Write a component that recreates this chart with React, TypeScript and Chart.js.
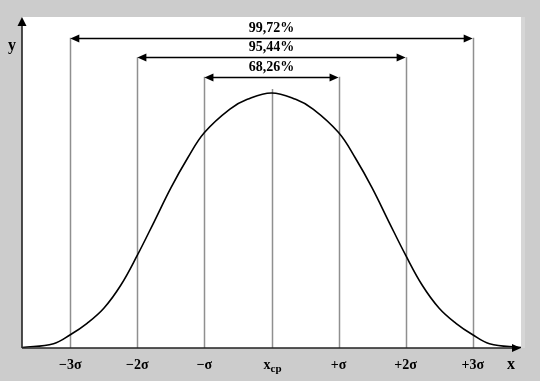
import React, { useEffect, useRef } from "react";
import { Chart, registerables } from "chart.js";

Chart.register(...registerables);

// Curve: x in sigma units, y relative density (peak = 1)
const curveX = [-3.72, -3.25, -3, -2.75, -2.5, -2.25, -2, -1.75, -1.5, -1.25, -1, -0.62, -0.36, 0, 0.36, 0.62, 1, 1.25, 1.5, 1.75, 2, 2.25, 2.5, 2.75, 3, 3.25, 3.72];
const curveY = [0.002, 0.017, 0.052, 0.097, 0.156, 0.245, 0.364, 0.495, 0.628, 0.745, 0.845, 0.937, 0.975, 1.0, 0.975, 0.937, 0.845, 0.745, 0.628, 0.495, 0.364, 0.245, 0.156, 0.097, 0.052, 0.017, 0.002];

// Sigma marks on the x axis
const sigmaTicks = [-3, -2, -1, 0, 1, 2, 3];
const sigmaLabels = ["\u22123\u03c3", "\u22122\u03c3", "\u2212\u03c3", "x", "+\u03c3", "+2\u03c3", "+3\u03c3"];
const sigmaLineTops = [1.217, 1.14, 1.064, 1.016, 1.064, 1.14, 1.217];

// Interval arrows
const intervalK = [3, 2, 1];
const intervalLabels = ["99,72%", "95,44%", "68,26%"];
const intervalLevels = [1.217, 1.14, 1.064];

const X_MIN = -3.72;
const X_MAX = 3.72;
const Y_MAX = 1.298;

const FONT = '"Liberation Serif", "Times New Roman", serif';

function arrowHead(ctx: CanvasRenderingContext2D, tipX: number, tipY: number, dir: "left" | "right" | "up", len: number, half: number) {
  ctx.beginPath();
  ctx.moveTo(tipX, tipY);
  if (dir === "left") {
    ctx.lineTo(tipX + len, tipY - half);
    ctx.lineTo(tipX + len, tipY + half);
  } else if (dir === "right") {
    ctx.lineTo(tipX - len, tipY - half);
    ctx.lineTo(tipX - len, tipY + half);
  } else {
    ctx.lineTo(tipX - half, tipY + len);
    ctx.lineTo(tipX + half, tipY + len);
  }
  ctx.closePath();
  ctx.fill();
}

const decorPlugin = {
  id: "decor",
  beforeDraw(chart: any) {
    const { ctx, chartArea, width, height } = chart;
    ctx.save();
    ctx.fillStyle = "#cccccc";
    ctx.fillRect(0, 0, width, height);
    ctx.fillStyle = "#d6d6d6";
    ctx.fillRect(chartArea.right, chartArea.top, 4, chartArea.bottom - chartArea.top);
    ctx.fillStyle = "#ffffff";
    ctx.fillRect(chartArea.left, chartArea.top, chartArea.right - chartArea.left, chartArea.bottom - chartArea.top);
    ctx.restore();
  },
  beforeDatasetsDraw(chart: any) {
    const { ctx, chartArea } = chart;
    const xs = chart.scales.x;
    const ys = chart.scales.y;
    ctx.save();
    ctx.strokeStyle = "#8f8f8f";
    ctx.lineWidth = 1.5;
    sigmaTicks.forEach((t, i) => {
      const px = Math.round(xs.getPixelForValue(t)) + 0.5;
      ctx.beginPath();
      ctx.moveTo(px, ys.getPixelForValue(sigmaLineTops[i]));
      ctx.lineTo(px, chartArea.bottom);
      ctx.stroke();
    });
    ctx.restore();
  },
  afterDatasetsDraw(chart: any) {
    const { ctx, chartArea } = chart;
    const xs = chart.scales.x;
    const ys = chart.scales.y;
    ctx.save();
    ctx.fillStyle = "#000";
    ctx.strokeStyle = "#000";

    // interval arrows
    intervalK.forEach((k, i) => {
      const y = Math.round(ys.getPixelForValue(intervalLevels[i])) + 0.5;
      const x1 = xs.getPixelForValue(-k);
      const x2 = xs.getPixelForValue(k);
      ctx.lineWidth = 1.5;
      ctx.beginPath();
      ctx.moveTo(x1 + 6, y);
      ctx.lineTo(x2 - 6, y);
      ctx.stroke();
      arrowHead(ctx, x1, y, "left", 9, 4);
      arrowHead(ctx, x2, y, "right", 9, 4);
      ctx.font = `bold 14px ${FONT}`;
      ctx.textAlign = "center";
      ctx.textBaseline = "middle";
      ctx.fillText(intervalLabels[i], xs.getPixelForValue(0), y - 10);
    });

    // axes
    ctx.lineWidth = 1.6;
    ctx.strokeStyle = "#222";
    ctx.beginPath();
    ctx.moveTo(chartArea.left, chartArea.bottom);
    ctx.lineTo(chartArea.left, chartArea.top + 8);
    ctx.stroke();
    arrowHead(ctx, chartArea.left, chartArea.top, "up", 9, 4.5);
    ctx.beginPath();
    ctx.moveTo(chartArea.left, chartArea.bottom);
    ctx.lineTo(chartArea.right - 8, chartArea.bottom);
    ctx.stroke();
    arrowHead(ctx, chartArea.right, chartArea.bottom, "right", 9, 4);

    // tick labels
    const ly = chartArea.bottom + 17;
    ctx.textBaseline = "middle";
    sigmaTicks.forEach((t, i) => {
      const px = xs.getPixelForValue(t);
      if (t === 0) {
        ctx.font = `bold 14px ${FONT}`;
        const wx = ctx.measureText("x").width;
        ctx.font = `bold 11px ${FONT}`;
        const wc = ctx.measureText("cp").width;
        const start = px - (wx + wc) / 2 + 1;
        ctx.textAlign = "left";
        ctx.font = `bold 14px ${FONT}`;
        ctx.fillText("x", start, ly);
        ctx.font = `bold 11px ${FONT}`;
        ctx.fillText("cp", start + wx, ly + 4);
      } else {
        ctx.font = `bold 14px ${FONT}`;
        ctx.textAlign = "center";
        ctx.fillText(sigmaLabels[i], px, ly);
      }
    });

    // axis names
    ctx.font = `bold 16px ${FONT}`;
    ctx.textAlign = "center";
    ctx.fillText("y", 12, 46);
    ctx.fillText("x", chartArea.right - 10, ly);
    ctx.restore();
  },
};

export default function App() {
  const canvasRef = useRef<HTMLCanvasElement | null>(null);

  useEffect(() => {
    document.body.style.margin = "0";
    const canvas = canvasRef.current;
    if (!canvas) return;
    const chart = new Chart(canvas, {
      type: "line",
      data: {
        datasets: [
          {
            data: curveX.map((x, i) => ({ x, y: curveY[i] })),
            borderColor: "#000",
            borderWidth: 1.6,
            pointRadius: 0,
            fill: false,
            tension: 0.4,
          },
        ],
      },
      options: {
        animation: false,
        responsive: false,
        maintainAspectRatio: false,
        layout: { padding: { left: 22, right: 19, top: 17, bottom: 33 } },
        plugins: { legend: { display: false }, tooltip: { enabled: false } },
        scales: {
          x: { type: "linear", min: X_MIN, max: X_MAX, display: false },
          y: { type: "linear", min: 0, max: Y_MAX, display: false },
        },
      },
      plugins: [decorPlugin],
    });
    return () => chart.destroy();
  }, []);

  return (
    <div style={{ position: "absolute", left: 0, top: 0, width: 540, height: 381 }}>
      <canvas ref={canvasRef} width={540} height={381} style={{ display: "block", width: 540, height: 381 }} />
    </div>
  );
}
